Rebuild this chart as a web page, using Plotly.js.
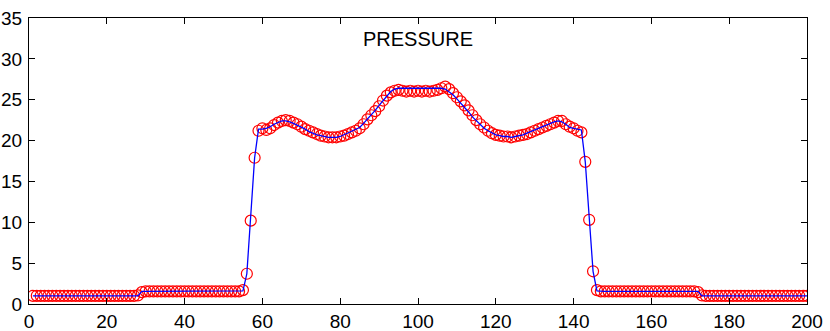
<!DOCTYPE html>
<html>
<head>
<meta charset="utf-8">
<script src="https://cdn.plot.ly/plotly-3.0.1.min.js"></script>
<style>html,body{margin:0;padding:0;background:#fff;}#chart{width:830px;height:331px;}</style>
</head>
<body>
<div id="chart"></div>
<script>
// x positions (cell index 1..200)
var xCells = [];
for (var i = 1; i <= 200; i++) xCells.push(i);

// numerical solution (red circles)
var pressureNumerical = [
  1.0,1.0,1.0,1.0,1.0,1.0,1.0,1.0,1.0,1.0,
  1.0,1.0,1.0,1.0,1.0,1.0,1.0,1.0,1.0,1.0,
  1.0,1.0,1.0,1.0,1.0,1.0,1.0,1.05,1.45,1.55,
  1.55,1.55,1.55,1.55,1.55,1.55,1.55,1.55,1.55,1.55,
  1.55,1.55,1.55,1.55,1.55,1.55,1.55,1.55,1.55,1.55,
  1.55,1.55,1.55,1.55,1.7,3.7,10.2,17.9,21.2,21.5,
  21.3,21.5,21.9,22.2,22.4,22.5,22.4,22.2,22.0,21.7,
  21.4,21.2,21.0,20.8,20.6,20.5,20.4,20.4,20.4,20.5,
  20.6,20.8,21.0,21.2,21.5,22.0,22.6,23.1,23.6,24.2,
  24.9,25.5,25.9,26.1,26.2,26.1,26.0,26.1,26.0,26.1,
  26.0,26.1,26.0,26.1,26.2,26.4,26.6,26.3,25.8,25.3,
  24.8,24.3,23.7,23.1,22.5,22.0,21.6,21.2,20.9,20.7,
  20.6,20.5,20.5,20.4,20.5,20.6,20.7,20.8,21.0,21.2,
  21.4,21.6,21.8,22.0,22.2,22.4,22.4,22.0,21.7,21.5,
  21.2,21.0,17.4,10.3,4.0,1.7,1.55,1.55,1.55,1.55,
  1.55,1.55,1.55,1.55,1.55,1.55,1.55,1.55,1.55,1.55,
  1.55,1.55,1.55,1.55,1.55,1.55,1.55,1.55,1.55,1.55,
  1.55,1.45,1.05,1.0,1.0,1.0,1.0,1.0,1.0,1.0,
  1.0,1.0,1.0,1.0,1.0,1.0,1.0,1.0,1.0,1.0,
  1.0,1.0,1.0,1.0,1.0,1.0,1.0,1.0,1.0,1.0
];

// reference solution (blue line)
var pressureReference = [
  1.0,1.0,1.0,1.0,1.0,1.0,1.0,1.0,1.0,1.0,
  1.0,1.0,1.0,1.0,1.0,1.0,1.0,1.0,1.0,1.0,
  1.0,1.0,1.0,1.0,1.0,1.0,1.0,1.0,1.55,1.55,
  1.55,1.55,1.55,1.55,1.55,1.55,1.55,1.55,1.55,1.55,
  1.55,1.55,1.55,1.55,1.55,1.55,1.55,1.55,1.55,1.55,
  1.55,1.55,1.55,1.55,1.6,3.7,10.2,17.9,21.4,21.4,
  21.5,21.7,22.0,22.2,22.4,22.4,22.3,22.1,21.9,21.6,
  21.4,21.1,20.9,20.7,20.6,20.5,20.4,20.4,20.4,20.5,
  20.7,20.9,21.1,21.3,21.6,22.1,22.6,23.1,23.7,24.3,
  24.9,25.5,26.0,26.3,26.4,26.4,26.4,26.4,26.4,26.4,
  26.4,26.4,26.4,26.4,26.4,26.4,26.3,26.0,25.6,25.1,
  24.6,24.1,23.5,22.9,22.4,21.9,21.5,21.2,20.9,20.7,
  20.6,20.5,20.5,20.4,20.5,20.6,20.7,20.9,21.1,21.3,
  21.5,21.7,21.9,22.1,22.3,22.4,22.3,22.0,21.6,21.5,
  21.4,21.3,17.4,10.3,4.0,1.6,1.55,1.55,1.55,1.55,
  1.55,1.55,1.55,1.55,1.55,1.55,1.55,1.55,1.55,1.55,
  1.55,1.55,1.55,1.55,1.55,1.55,1.55,1.55,1.55,1.55,
  1.55,1.55,1.0,1.0,1.0,1.0,1.0,1.0,1.0,1.0,
  1.0,1.0,1.0,1.0,1.0,1.0,1.0,1.0,1.0,1.0,
  1.0,1.0,1.0,1.0,1.0,1.0,1.0,1.0,1.0,1.0
];

var xTickValues = [0, 20, 40, 60, 80, 100, 120, 140, 160, 180, 200];
var yTickValues = [0, 5, 10, 15, 20, 25, 30, 35];
var chartTitle = "PRESSURE";

var traces = [
  {
    x: xCells, y: pressureNumerical, type: "scatter", mode: "markers",
    marker: {symbol: "circle-open", size: 11, color: "#ff0000", line: {width: 1.2, color: "#ff0000"}},
    cliponaxis: true, hoverinfo: "skip"
  },
  {
    x: xCells, y: pressureReference, type: "scatter", mode: "lines",
    line: {color: "#0000ff", width: 1.3}, hoverinfo: "skip"
  }
];

var axisFont = {family: "Liberation Sans, Arial, sans-serif", size: 19, color: "#000"};

var layout = {
  width: 830, height: 331,
  margin: {l: 29, r: 23, t: 18, b: 27, pad: 0},
  paper_bgcolor: "#fff", plot_bgcolor: "#fff",
  showlegend: false,
  xaxis: {
    range: [0, 200], tickvals: xTickValues, ticktext: xTickValues.map(String),
    ticks: "inside", ticklen: 6, tickwidth: 1, tickcolor: "#000",
    showline: true, linecolor: "#000", linewidth: 1, mirror: "ticks",
    showgrid: false, zeroline: false, tickfont: axisFont, ticklabelstandoff: 0
  },
  yaxis: {
    range: [0, 35], tickvals: yTickValues, ticktext: yTickValues.map(String),
    ticks: "inside", ticklen: 6, tickwidth: 1, tickcolor: "#000",
    showline: true, linecolor: "#000", linewidth: 1, mirror: "ticks",
    showgrid: false, zeroline: false, tickfont: axisFont, ticklabelstandoff: 2
  },
  annotations: [{
    text: chartTitle, xref: "paper", yref: "paper", x: 0.5, y: 0.927,
    xanchor: "center", yanchor: "middle", showarrow: false,
    font: {family: "Liberation Sans, Arial, sans-serif", size: 20, color: "#000"}
  }]
};

Plotly.newPlot("chart", traces, layout, {staticPlot: true, displayModeBar: false});
</script>
</body>
</html>
